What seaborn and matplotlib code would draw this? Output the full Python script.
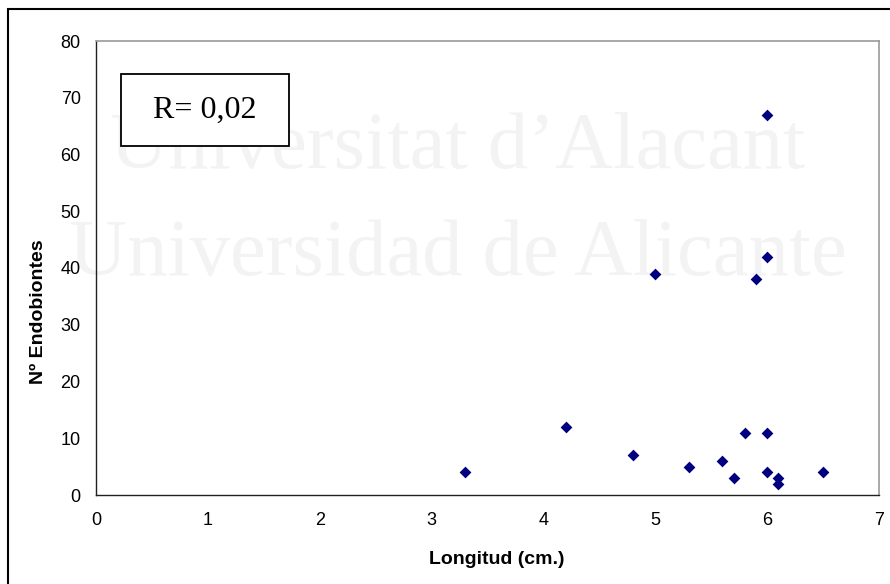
import matplotlib
matplotlib.use("Agg")
import matplotlib.pyplot as plt
import seaborn as sns
import pandas as pd
from matplotlib.patches import Rectangle

# Data
longitud = [3.3, 4.2, 4.8, 5.0, 5.3, 5.6, 5.7, 5.8, 5.9, 6.0, 6.0, 6.0, 6.0, 6.1, 6.1, 6.5]
endobiontes = [4, 12, 7, 39, 5, 6, 3, 11, 38, 67, 42, 11, 4, 3, 2, 4]
x_ticks = [0, 1, 2, 3, 4, 5, 6, 7]
y_ticks = [0, 10, 20, 30, 40, 50, 60, 70, 80]
r_label = "R= 0,02"
x_label = "Longitud (cm.)"
y_label = "Nº Endobiontes"
watermark = ["Universitat d\u2019Alacant", "Universidad de Alicante"]

df = pd.DataFrame({"Longitud": longitud, "Endobiontes": endobiontes})

sns.set_style("white")
plt.rcParams["font.family"] = ["Liberation Sans", "DejaVu Sans"]
plt.rcParams["text.color"] = "black"
plt.rcParams["axes.labelcolor"] = "black"

W, H = 890, 584
fig = plt.figure(figsize=(8.9, 5.84), dpi=100)
ax = fig.add_axes([96 / W, 1 - 495 / H, (879 - 96) / W, (495 - 41) / H])
ax.patch.set_alpha(0)

# faint watermark (behind the data and the R box)
for txt, base in zip(watermark, [168, 275]):
    ax.text(458 / W, 1 - base / H, txt, transform=fig.transFigure,
            ha="center", va="baseline",
            family=["Liberation Serif", "DejaVu Serif"], fontsize=58,
            color="#f3f3f3", zorder=0.5, clip_on=False)

sns.scatterplot(data=df, x="Longitud", y="Endobiontes", ax=ax, marker="D",
                color="#000080", s=36, linewidth=0, zorder=3)

ax.set_xlim(0, 7)
ax.set_ylim(0, 80)
ax.set_xticks(x_ticks)
ax.set_yticks(y_ticks)
ax.set_xticklabels([str(v) for v in x_ticks])
ax.set_yticklabels([str(v) for v in y_ticks])

for side in ["left", "bottom"]:
    ax.spines[side].set_color("#202020")
    ax.spines[side].set_linewidth(1.0)
for side in ["top", "right"]:
    ax.spines[side].set_color("#9a9a9a")
    ax.spines[side].set_linewidth(1.2)

ax.tick_params(axis="both", which="major", direction="out", length=5, width=1,
               color="#404040", labelsize=13, labelcolor="black")
ax.tick_params(axis="y", pad=6)
ax.tick_params(axis="x", pad=7)

ax.set_xlabel(x_label, fontsize=14, fontweight="bold", color="black")
ax.set_ylabel(y_label, fontsize=14, fontweight="bold", color="black")
ax.xaxis.set_label_coords((497 - 96) / 783, (495 - 560) / 454)
ax.yaxis.set_label_coords((38 - 96) / 783, (495 - 312) / 454)
ax.xaxis.label.set_va("center")
ax.yaxis.label.set_va("center")

# R box
bx0, bx1 = (121 - 96) / 783, (289 - 96) / 783
by0, by1 = (495 - 146) / 454, (495 - 74) / 454
ax.add_patch(Rectangle((bx0, by0), bx1 - bx0, by1 - by0, transform=ax.transAxes,
                       facecolor="white", edgecolor="black", linewidth=1.3,
                       zorder=4, clip_on=False))
ax.text((bx0 + bx1) / 2, (by0 + by1) / 2, r_label, transform=ax.transAxes,
        ha="center", va="center", fontsize=23, color="black",
        family=["Liberation Serif", "DejaVu Serif"], zorder=5)

# outer chart frame (left and top only visible, continues past image edge)
fig.patches.append(Rectangle((8 / W, -0.1), 1.2, 1 - 9 / H + 0.1,
                             transform=fig.transFigure, facecolor="none",
                             edgecolor="black", linewidth=1.5, zorder=0))

fig.savefig("out.png", dpi=100)
